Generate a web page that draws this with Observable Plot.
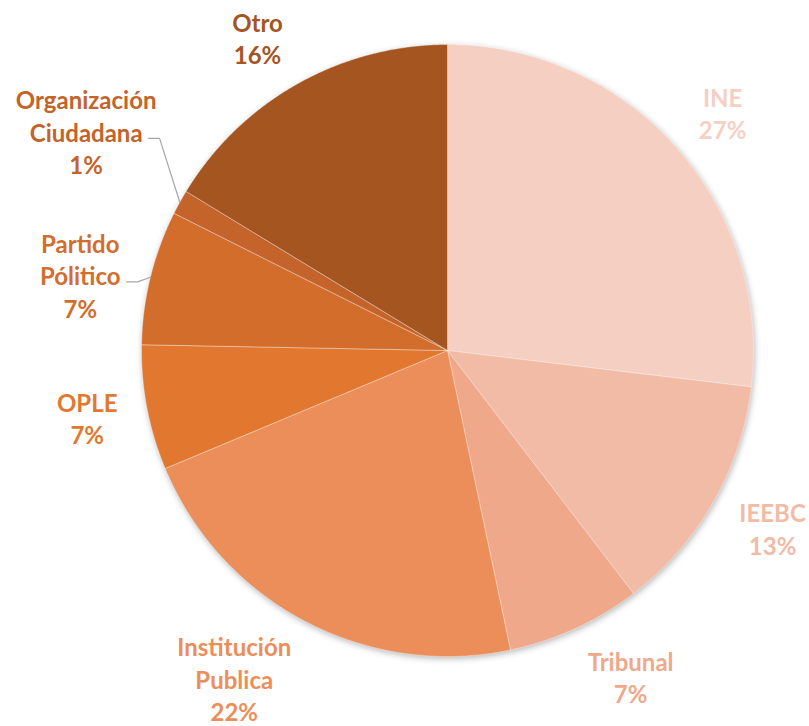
<!DOCTYPE html>
<html>
<head>
<meta charset="utf-8">
<script src="https://cdn.jsdelivr.net/npm/d3@7"></script>
<script src="https://cdn.jsdelivr.net/npm/@observablehq/plot@0.6"></script>
<style>
  html, body { margin: 0; padding: 0; background: #ffffff; }
  #chart svg { display: block; }
</style>
</head>
<body>
<div id="chart"></div>
<script>
// ---- data ----
const categories = ["INE", "IEEBC", "Tribunal", "Institución Publica", "OPLE", "Partido Pólitico", "Organización Ciudadana", "Otro"];
const labelLines = [["INE"], ["IEEBC"], ["Tribunal"], ["Institución", "Publica"], ["OPLE"], ["Partido", "Pólitico"], ["Organización", "Ciudadana"], ["Otro"]];
const shares = [26.9, 12.7, 7.1, 22.0, 6.6, 7.1, 1.3, 16.3];
const sliceColors = ["#F5D0C2", "#F2BBA5", "#EFA98A", "#EC8E5A", "#E27830", "#D36D2C", "#C4632A", "#A5551F"];

// ---- layout ----
const W = 809, H = 726;
const cx = 447, cy = 350, R = 306;
const fontSize = 24, lineH = 32.5, fontFamily = "Lato";
const labelGap = 30;
const leaderLayout = { "Partido Pólitico": { turn: -2, gap: 28 }, "Organización Ciudadana": { turn: 5.5, gap: 47 } };

const pie = d3.pie().sort(null).value(d => d.value)(categories.map((c, i) => ({ name: c, value: shares[i] })));

// slice polygons in unit coordinates (y up)
const polys = [];
pie.forEach(s => {
  const n = Math.max(2, Math.ceil((s.endAngle - s.startAngle) / (Math.PI / 720)));
  polys.push({ name: s.data.name, x: 0, y: 0 });
  for (let k = 0; k <= n; k++) {
    const a = s.startAngle + (s.endAngle - s.startAngle) * k / n;
    polys.push({ name: s.data.name, x: Math.sin(a), y: Math.cos(a) });
  }
  polys.push({ name: s.data.name, x: 0, y: 0 });
});

// text measuring
const ctx = document.createElement("canvas").getContext("2d");
ctx.font = `bold ${fontSize}px ${fontFamily}`;
const tw = s => ctx.measureText(s).width;

const toX = px => (px - cx) / R;
const toY = py => (cy - py) / R;

const labels = [];
const leaders = [];
pie.forEach((s, i) => {
  const name = s.data.name;
  const lines = [...labelLines[i], Math.round(shares[i]) + "%"];
  const w = d3.max(lines, tw);
  const h = lines.length * lineH;
  const mid = (s.startAngle + s.endAngle) / 2;
  const lay = leaderLayout[name];
  const a = mid + (lay ? lay.turn * Math.PI / 180 : 0);
  const r = R + (lay ? lay.gap : labelGap);
  const ax = cx + Math.sin(a) * r, ay = cy - Math.cos(a) * r;
  const px = ax + Math.sign(Math.sin(a)) * w / 2;
  const py = ay - Math.cos(a) * h * 0.35;
  labels.push({ name, text: lines.join("\n"), x: toX(px), y: toY(py) });
  if (lay) {
    const midLine = lines[Math.floor(lines.length / 2)];
    const sx = px + tw(midLine) / 2 + 6;
    const sy = py + 7;
    leaders.push({ id: name, x: toX(sx), y: toY(sy) });
    leaders.push({ id: name, x: toX(sx + 11), y: toY(sy) });
    leaders.push({ id: name, x: Math.sin(mid), y: Math.cos(mid) });
  }
});

const chart = Plot.plot({
  width: W,
  height: H,
  margin: 0,
  x: { domain: [toX(0), toX(W)], range: [0, W], axis: null },
  y: { domain: [toY(H), toY(0)], range: [H, 0], axis: null },
  color: { domain: categories, range: sliceColors },
  style: { background: "#ffffff", overflow: "visible" },
  marks: [
    Plot.line(polys, {
      x: "x", y: "y", z: "name", fill: "name",
      stroke: "#ffffff", strokeOpacity: 0.35, strokeWidth: 1
    }),
    Plot.line(leaders, { x: "x", y: "y", z: "id", stroke: "#A6A6A6", strokeWidth: 1.2 }),
    Plot.text(labels, {
      x: "x", y: "y", text: "text", fill: "name",
      fontSize, fontWeight: "bold", fontFamily,
      lineHeight: lineH / fontSize, textAnchor: "middle", lineAnchor: "middle"
    })
  ]
});

const g = chart.querySelector('g[aria-label="line"]');
if (g) g.style.filter = "drop-shadow(1px 2px 3px rgba(0,0,0,0.28))";
document.getElementById("chart").appendChild(chart);
</script>
</body>
</html>
